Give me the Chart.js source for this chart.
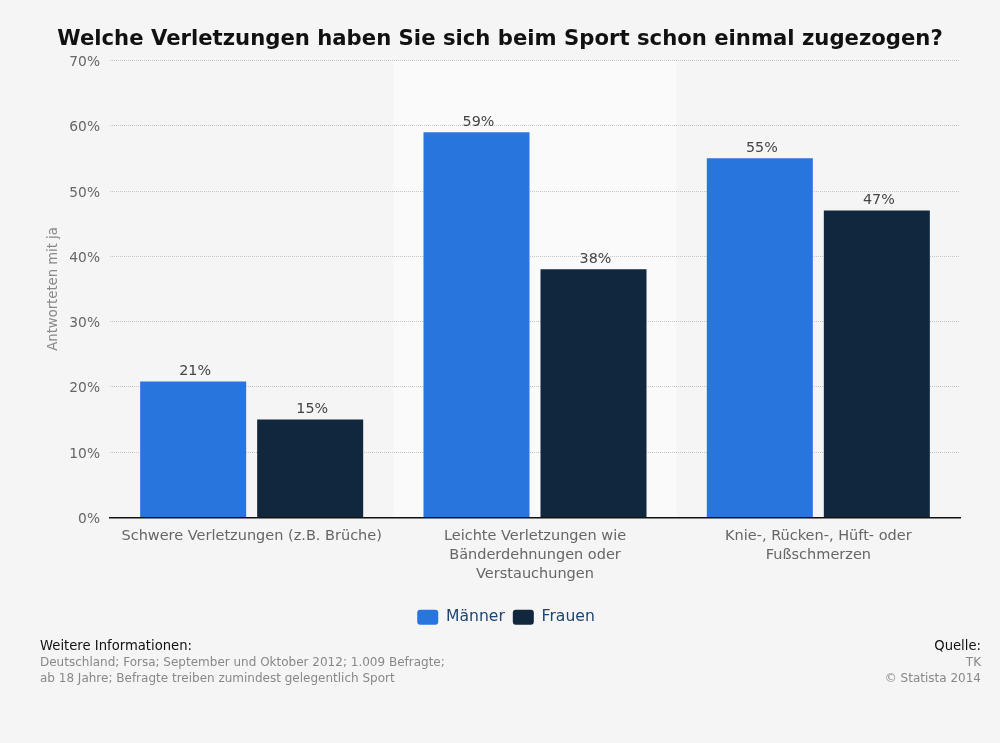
<!DOCTYPE html>
<html>
<head>
<meta charset="utf-8">
<script src="https://cdn.jsdelivr.net/npm/chart.js@4"></script>
<style>
  html, body { margin: 0; padding: 0; background: #f5f5f5; }
  #wrap { position: relative; width: 1000px; height: 743px; overflow: hidden; }
  canvas { display: block; }
  .note { position: absolute; font-family: "DejaVu Sans"; font-size: 12px; line-height: 16px; color: #888; white-space: nowrap; }
  .note b { font-weight: normal; font-size: 13.2px; color: #111; display: block; line-height: 17px; }
</style>
</head>
<body>
<div id="wrap">
  <canvas id="chart" width="1000" height="743"></canvas>
  <div class="note" style="left:40px; top:637px;"><b>Weitere Informationen:</b>Deutschland; Forsa; September und Oktober 2012; 1.009 Befragte;<br>ab 18 Jahre; Befragte treiben zumindest gelegentlich Sport</div>
  <div class="note" style="right:19px; top:637px; text-align:right;"><b>Quelle:</b>TK<br>© Statista 2014</div>
</div>
<script>
const titleText = "Welche Verletzungen haben Sie sich beim Sport schon einmal zugezogen?";
const yAxisTitle = "Antworteten mit ja";
const categories = [
    "Schwere Verletzungen (z.B. Brüche)",
    ["Leichte Verletzungen wie", "Bänderdehnungen oder", "Verstauchungen"],
    ["Knie-, Rücken-, Hüft- oder", "Fußschmerzen"]
];
const maenner = [20.8, 59, 55];
const frauen = [15, 38, 47];
const yTicks = [0, 10, 20, 30, 40, 50, 60, 70];

const fontName = "'DejaVu Sans'";

// light band behind the middle category, under the grid lines
const bandPlugin = {
    id: 'band',
    afterLayout(chart) {
        // title is centred on the page, not on the padded box
        chart.titleBlock.left = 0;
        chart.titleBlock.right = 1000;
    },
    beforeDraw(chart) {
        const x = chart.scales.x, area = chart.chartArea, ctx = chart.ctx;
        const step = x.getPixelForValue(1) - x.getPixelForValue(0);
        ctx.save();
        ctx.fillStyle = '#fafafa';
        ctx.fillRect(x.getPixelForValue(1) - step / 2, area.top, step, area.bottom - area.top);
        ctx.restore();
    }
};

// percentage above each bar
const valueLabels = {
    id: 'valueLabels',
    afterDatasetsDraw(chart) {
        const ctx = chart.ctx;
        ctx.save();
        ctx.font = "14.3px " + fontName;
        ctx.fillStyle = '#444';
        ctx.textAlign = 'center';
        ctx.textBaseline = 'bottom';
        chart.data.datasets.forEach((ds, i) => {
            chart.getDatasetMeta(i).data.forEach((bar, j) => {
                ctx.fillText(Math.round(ds.data[j]) + '%', bar.x + 2, bar.y - 3);
            });
        });
        ctx.restore();
    }
};

new Chart(document.getElementById('chart'), {
    type: 'bar',
    data: {
        labels: categories,
        datasets: [
            { label: 'Männer', data: maenner, backgroundColor: '#2875de' },
            { label: 'Frauen', data: frauen, backgroundColor: '#10273d' }
        ]
    },
    options: {
        responsive: false,
        animation: false,
        devicePixelRatio: 1,
        categoryPercentage: 0.826,
        barPercentage: 0.906,
        layout: { padding: { left: 52, right: 40, top: 0, bottom: 108 } },
        plugins: {
            title: {
                display: true,
                text: titleText,
                color: '#111',
                font: { family: fontName, size: 21.2, weight: 'bold' },
                padding: { top: 27, bottom: 8 }
            },
            legend: {
                position: 'bottom',
                labels: {
                    color: '#1f4470',
                    font: { family: fontName, size: 15.6 },
                    boxWidth: 21,
                    boxHeight: 15,
                    padding: 8,
                    useBorderRadius: true,
                    borderRadius: 3
                }
            },
            tooltip: { enabled: false }
        },
        scales: {
            x: {
                grid: { display: false, drawTicks: false },
                border: { color: '#111', width: 1.5 },
                afterFit(scale) { scale.height = 84; },
                ticks: {
                    color: '#666',
                    font: { family: fontName, size: 14.5, lineHeight: 1.28 },
                    padding: 10,
                    maxRotation: 0,
                    autoSkip: false
                }
            },
            y: {
                min: 0,
                max: 70,
                afterFit(scale) { scale.width = 58; },
                afterBuildTicks(scale) { scale.ticks = yTicks.map(v => ({ value: v })); },
                grid: { color: '#c6c6c6', drawTicks: false, lineWidth: 1 },
                border: { display: false, dash: [1, 1] },
                title: {
                    display: true,
                    text: yAxisTitle,
                    color: '#888',
                    font: { family: fontName, size: 13.2 },
                    padding: { top: -6, bottom: 0 }
                },
                ticks: {
                    color: '#666',
                    font: { family: fontName, size: 13.8 },
                    padding: 10,
                    labelOffset: 2,
                    callback: v => v + '%'
                }
            }
        }
    },
    plugins: [bandPlugin, valueLabels]
});
</script>
</body>
</html>
